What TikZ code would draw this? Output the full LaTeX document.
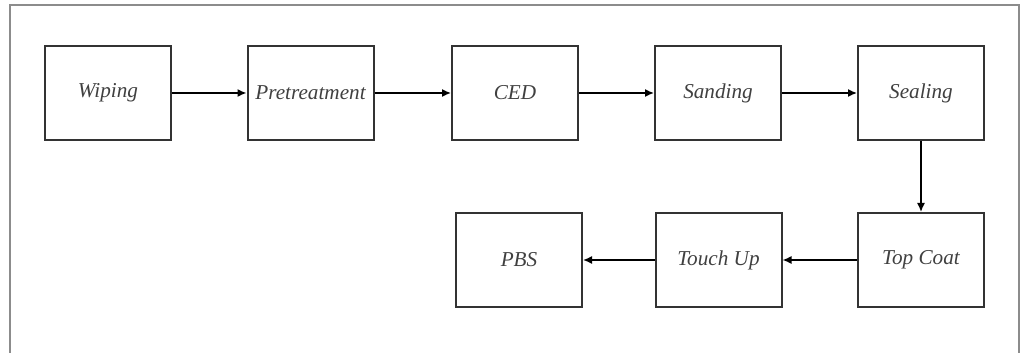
\documentclass[tikz,border=0pt]{standalone}
\usepackage{fontspec}
\setmainfont{Liberation Serif}
\usetikzlibrary{arrows.meta}
\begin{document}
\begin{tikzpicture}[x=0.5pt,y=-0.5pt,
  stage/.style={draw=black!80, line width=1pt, minimum width=63pt, minimum height=47pt,
    inner sep=0pt, font=\itshape\fontsize{10.6}{12}\selectfont, text=black!75},
  flow/.style={line width=0.75pt, -{Latex[length=4.5pt,width=4pt]}},
  frame/.style={draw=black!45, line width=1.4pt}]
\useasboundingbox (0,0) rectangle (1024,353);
% open frame around the process chart
\draw[frame] (10,360) -- (10,5) -- (1019,5) -- (1019,360);
% top row of stages
\node[stage] (wip) at (108,93) {Wiping};
\node[stage] (pre) at (310.5,93) {Pretreatment};
\node[stage] (ced) at (515,93) {CED};
\node[stage] (san) at (718,93) {Sanding};
\node[stage] (sea) at (921,93) {Sealing};
% bottom row of stages
\node[stage] (top) at (921,260) {Top Coat};
\node[stage] (tou) at (718.5,260) {Touch Up};
\node[stage] (pbs) at (519,260) {PBS};
% connectors
\draw[flow] (wip) -- (pre);
\draw[flow] (pre) -- (ced);
\draw[flow] (ced) -- (san);
\draw[flow] (san) -- (sea);
\draw[flow] (sea) -- (top);
\draw[flow] (top) -- (tou);
\draw[flow] (tou) -- (pbs);
\end{tikzpicture}
\end{document}
